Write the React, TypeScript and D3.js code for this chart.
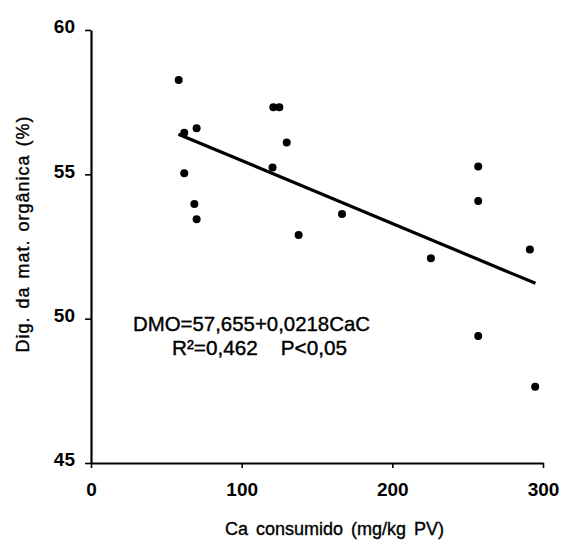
import { useRef, useEffect } from "react";
import * as d3 from "d3";

// Ca consumido (mg/kg PV) vs digestibilidade da matéria orgânica (%)
const caConsumido = [58.2, 61.9, 70.1, 61.9, 68.6, 70.1, 121, 125, 129.9, 120.5, 137.8, 166.6, 225.6, 257, 257, 257, 291.3, 294.8];
const digMO = [58.27, 56.44, 56.6, 55.04, 53.97, 53.44, 57.32, 57.32, 56.1, 55.24, 52.9, 53.63, 52.09, 55.27, 54.08, 49.4, 52.4, 47.64];

const xTicks = [0, 100, 200, 300];
const yTicks = [45, 50, 55, 60];

// regression: DMO = 57,655 - 0,0218 CaC, drawn over the data range
const intercept = 57.655;
const slope = -0.0218;
const lineRange = [58, 295];

const equationText = "DMO=57,655+0,0218CaC";
const statsText = "R²=0,462    P<0,05";
const xTitle = "Ca consumido (mg/kg PV)";
const yTitle = "Dig. da mat. orgânica (%)";

export default function App() {
  const svgRef = useRef<SVGSVGElement>(null);

  useEffect(() => {
    drawChart();
  }, []);

  function drawChart() {
    if (!svgRef.current) return;
    const svg = d3.select(svgRef.current);
    svg.selectAll("*").remove();

    const font = "'Liberation Sans', Arial, sans-serif";

    const x = d3.scaleLinear().domain([0, 300]).range([91, 543]);
    const y = d3.scaleLinear().domain([45, 60]).range([463, 30]);

    // y axis
    const yAxis = svg
      .append("g")
      .attr("transform", `translate(${x(0)},0)`)
      .call(d3.axisLeft(y).tickValues(yTicks).tickSize(6).tickSizeOuter(0).tickFormat(d3.format("d")));
    yAxis.select(".domain").attr("stroke", "#000").attr("stroke-width", 2.2);
    yAxis.selectAll(".tick line").attr("stroke", "#000").attr("stroke-width", 1.6);
    yAxis
      .selectAll(".tick text")
      .attr("x", -16)
      .attr("dy", "0.15em")
      .attr("font-family", font)
      .attr("font-size", 19)
      .attr("font-weight", 700)
      .attr("fill", "#000");

    // x axis
    const xAxis = svg
      .append("g")
      .attr("transform", `translate(0,${y(45)})`)
      .call(d3.axisBottom(x).tickValues(xTicks).tickSize(5).tickSizeOuter(0).tickFormat(d3.format("d")));
    xAxis.select(".domain").attr("stroke", "#000").attr("stroke-width", 2.2);
    xAxis.selectAll(".tick line").attr("stroke", "#000").attr("stroke-width", 1.6);
    xAxis
      .selectAll(".tick text")
      .attr("y", 20)
      .attr("dy", "0.71em")
      .attr("font-family", font)
      .attr("font-size", 19)
      .attr("font-weight", 700)
      .attr("fill", "#000");

    svg.selectAll(".domain").attr("fill", "none");

    // regression line
    const line = d3
      .line<number>()
      .x((d) => x(d))
      .y((d) => y(intercept + slope * d));
    svg
      .append("path")
      .datum(lineRange)
      .attr("d", line)
      .attr("fill", "none")
      .attr("stroke", "#000")
      .attr("stroke-width", 3.2);

    // points
    svg
      .append("g")
      .selectAll("circle")
      .data(caConsumido)
      .enter()
      .append("circle")
      .attr("cx", (d) => x(d))
      .attr("cy", (_d, i) => y(digMO[i]))
      .attr("r", 4)
      .attr("fill", "#000");

    // equation
    svg
      .append("text")
      .attr("x", 133)
      .attr("y", 331)
      .attr("font-family", font)
      .attr("font-size", 21)
      .attr("stroke", "#000")
      .attr("stroke-width", 0.4)
      .attr("textLength", 237)
      .attr("lengthAdjust", "spacingAndGlyphs")
      .text(equationText);
    svg
      .append("text")
      .attr("x", 172)
      .attr("y", 355)
      .attr("font-family", font)
      .attr("font-size", 20)
      .attr("stroke", "#000")
      .attr("stroke-width", 0.4)
      .style("white-space", "pre")
      .attr("textLength", 175)
      .attr("lengthAdjust", "spacingAndGlyphs")
      .text(statsText);

    // axis titles
    svg
      .append("text")
      .attr("x", 225)
      .attr("y", 535)
      .attr("font-family", font)
      .attr("font-size", 18)
      .attr("stroke", "#000")
      .attr("stroke-width", 0.35)
      .attr("word-spacing", 3)
      .text(xTitle);
    svg
      .append("text")
      .attr("transform", `translate(29,234) rotate(-90)`)
      .attr("text-anchor", "middle")
      .attr("font-family", font)
      .attr("font-size", 18)
      .attr("stroke", "#000")
      .attr("stroke-width", 0.35)
      .attr("letter-spacing", 1)
      .attr("word-spacing", 2)
      .text(yTitle);
  }

  return (
    <svg
      ref={svgRef}
      width={563}
      height={545}
      style={{ position: "absolute", left: 0, top: 0, background: "#fff" }}
    />
  );
}
